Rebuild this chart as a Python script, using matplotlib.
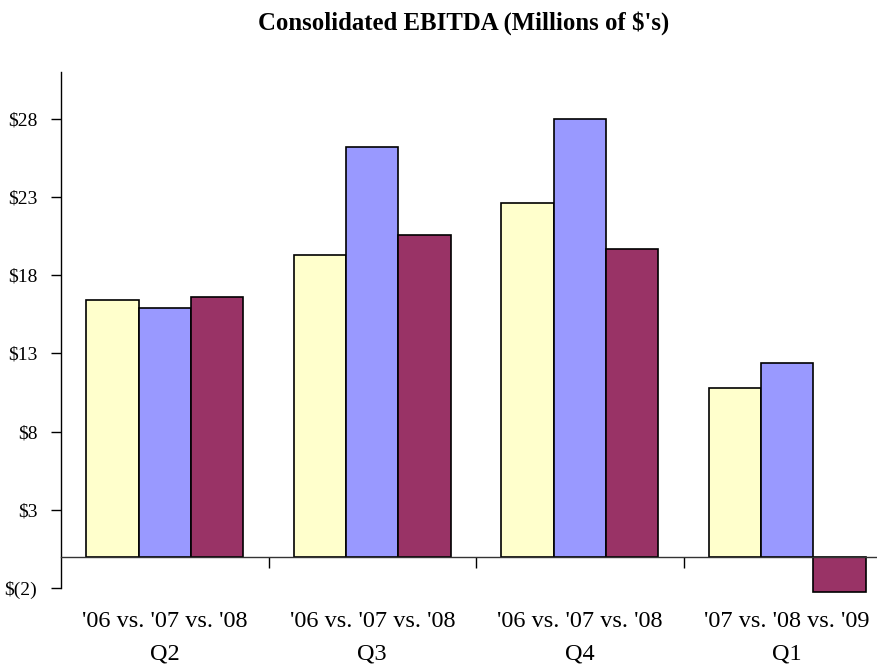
import matplotlib
matplotlib.use("Agg")
import matplotlib.pyplot as plt
import numpy as np

quarters = ["Q2", "Q3", "Q4", "Q1"]
periods = ["'06 vs. '07 vs. '08", "'06 vs. '07 vs. '08",
           "'06 vs. '07 vs. '08", "'07 vs. '08 vs. '09"]
first_year = [16.4, 19.3, 22.6, 10.8]
second_year = [15.9, 26.2, 28.0, 12.4]
third_year = [16.6, 20.6, 19.7, -2.25]
y_ticks = [-2, 3, 8, 13, 18, 23, 28]
y_labels = ["$(2)", "$3", "$8", "$13", "$18", "$23", "$28"]

colors = ["#FFFFCC", "#9999FF", "#993366"]

plt.rcParams["font.family"] = ["Liberation Serif", "DejaVu Serif"]

fig = plt.figure(figsize=(8.78, 6.66), dpi=100)
ax = fig.add_axes([61 / 878, 1 - 588 / 666, 830 / 878, 516 / 666])

x = np.arange(len(quarters))
w = 0.253
for i, (vals, c) in enumerate(zip([first_year, second_year, third_year], colors)):
    ax.bar(x + (i - 1) * w, vals, width=w, color=c, edgecolor="black",
           linewidth=1.2, clip_on=False, zorder=2)

ax.set_xlim(-0.5, len(quarters) - 0.5)
ax.set_ylim(-2, 31)

ax.spines["top"].set_visible(False)
ax.spines["right"].set_visible(False)
ax.spines["bottom"].set_position(("data", 0))
ax.spines["bottom"].set_linewidth(1.0)
ax.spines["left"].set_linewidth(1.0)
ax.spines["bottom"].set_color("#333333")

ax.set_yticks(y_ticks)
ax.set_yticklabels(y_labels, fontsize=14)
ax.tick_params(axis="y", direction="out", length=7, width=1, pad=10)

ax.set_xticks(x)
ax.set_xticklabels([f"{p}\n{q}" for p, q in zip(periods, quarters)],
                   fontsize=17.5, linespacing=1.75)
ax.tick_params(axis="x", which="major", length=0, pad=39)
ax.set_xticks(np.arange(0.5, len(quarters) - 0.5, 1.0), minor=True)
ax.tick_params(axis="x", which="minor", direction="out", length=8, width=1)

fig.text(464 / 878, 1 - 23 / 666, "Consolidated EBITDA (Millions of $'s)",
         ha="center", va="center", fontsize=17.8, fontweight="bold")

fig.savefig("out.png", dpi=100)
